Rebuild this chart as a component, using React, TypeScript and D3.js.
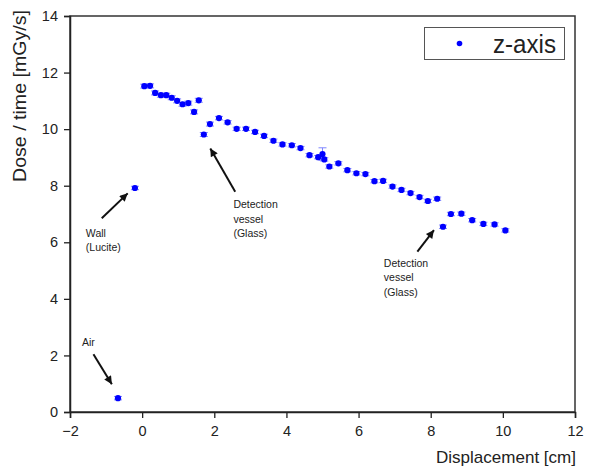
import React, { useEffect, useRef } from 'react';
import * as d3 from 'd3';

// measured dose rate along the z-axis
const displacement = [
  -0.67, -0.2, 0.06, 0.22, 0.36, 0.52, 0.67, 0.82, 0.97, 1.12, 1.28, 1.44, 1.57,
  1.71, 1.88, 2.13, 2.37, 2.62, 2.88, 3.13, 3.38, 3.64, 3.89, 4.15, 4.39, 4.64,
  4.88, 5.0, 5.05, 5.19, 5.44, 5.69, 5.94, 6.19, 6.44, 6.68, 6.94, 7.19, 7.44,
  7.69, 7.92, 8.18, 8.34, 8.56, 8.85, 9.15, 9.46, 9.77, 10.07,
];
const doseRate = [
  0.49, 7.92, 11.52, 11.53, 11.28, 11.2, 11.2, 11.11, 11.0, 10.88, 10.92, 10.61, 11.02,
  9.81, 10.18, 10.39, 10.24, 10.01, 10.01, 9.9, 9.76, 9.59, 9.46, 9.43, 9.33, 9.08,
  9.01, 9.12, 8.93, 8.68, 8.79, 8.55, 8.44, 8.41, 8.16, 8.17, 7.97, 7.85, 7.74,
  7.6, 7.46, 7.54, 6.55, 7.0, 7.01, 6.78, 6.65, 6.63, 6.42,
];
const doseError = [
  0.06, 0.06, 0.07, 0.07, 0.07, 0.07, 0.07, 0.07, 0.07, 0.07, 0.07, 0.07, 0.07,
  0.07, 0.07, 0.06, 0.06, 0.06, 0.06, 0.06, 0.06, 0.06, 0.06, 0.06, 0.06, 0.06,
  0.06, 0.22, 0.06, 0.06, 0.06, 0.06, 0.06, 0.06, 0.06, 0.06, 0.06, 0.06, 0.06,
  0.06, 0.06, 0.06, 0.06, 0.06, 0.06, 0.06, 0.06, 0.06, 0.06,
];

const xTicks = [-2, 0, 2, 4, 6, 8, 10, 12];
const yTicks = [0, 2, 4, 6, 8, 10, 12, 14];

// annotation labels: text lines, label anchor, arrow tail, arrow tip (data units)
const noteLines = [['Air'], ['Wall', '(Lucite)'], ['Detection', 'vessel', '(Glass)'], ['Detection', 'vessel', '(Glass)']];
const noteAt: [number, number][] = [[-1.67, 2.33], [-1.56, 6.19], [2.53, 7.21], [6.7, 5.14]];
const arrowFrom: [number, number][] = [[-1.35, 2.04], [-1.12, 6.85], [2.58, 7.79], [7.63, 5.67]];
const arrowTo: [number, number][] = [[-0.84, 0.98], [-0.4, 7.73], [1.89, 9.32], [8.09, 6.43]];

const W = 591;
const H = 469;
const margin = { top: 16, right: 16, bottom: 57, left: 70 };

const App: React.FC = () => {
  const svgRef = useRef<SVGSVGElement>(null);

  useEffect(() => {
    if (!svgRef.current) return;
    d3.select(svgRef.current).selectAll('*').remove();

    const svg = d3.select(svgRef.current).attr('width', W).attr('height', H);
    const font = '"Liberation Sans", Arial, sans-serif';

    const x = d3.scaleLinear().domain([-2, 12]).range([margin.left, W - margin.right]);
    const y = d3.scaleLinear().domain([0, 14]).range([H - margin.bottom, margin.top]);

    svg.append('rect').attr('width', W).attr('height', H).attr('fill', 'white');

    // frame
    svg.append('rect')
      .attr('x', x(-2))
      .attr('y', y(14))
      .attr('width', x(12) - x(-2))
      .attr('height', y(0) - y(14))
      .attr('fill', 'none')
      .attr('stroke', '#333')
      .attr('stroke-width', 1.5);

    // x axis
    const xAxis = svg.append('g').attr('transform', `translate(0,${y(0)})`);
    xAxis.call(
      d3.axisBottom(x).tickValues(d3.range(-2, 12.01, 1)).tickSize(3).tickFormat(() => '')
    );
    xAxis.call(
      d3.axisBottom(x).tickValues(xTicks).tickSize(6).tickPadding(8).tickFormat(d3.format('d'))
    );
    xAxis.selectAll('.domain').attr('stroke', '#222').attr('stroke-width', 1.5);
    xAxis.selectAll('.tick line').attr('stroke', '#222').attr('stroke-width', 1.3);
    xAxis.selectAll('text').attr('font-family', font).attr('font-size', 14.5).attr('fill', '#222');

    // y axis
    const yAxis = svg.append('g').attr('transform', `translate(${x(-2)},0)`);
    yAxis.call(
      d3.axisLeft(y).tickValues(d3.range(0, 14.01, 1)).tickSize(3).tickFormat(() => '')
    );
    yAxis.call(
      d3.axisLeft(y).tickValues(yTicks).tickSize(6).tickPadding(6).tickFormat(d3.format('d'))
    );
    yAxis.selectAll('.domain').attr('stroke', '#222').attr('stroke-width', 1.5);
    yAxis.selectAll('.tick line').attr('stroke', '#222').attr('stroke-width', 1.3);
    yAxis.selectAll('text').attr('font-family', font).attr('font-size', 14.5).attr('fill', '#222');

    // axis titles
    svg.append('text')
      .attr('x', x(12) + 1)
      .attr('y', 463)
      .attr('text-anchor', 'end')
      .attr('font-family', font)
      .attr('font-size', 17)
      .attr('fill', '#222')
      .attr('textLength', 140)
      .attr('lengthAdjust', 'spacingAndGlyphs')
      .text('Displacement [cm]');
    svg.append('text')
      .attr('transform', `translate(26,${y(14) - 6}) rotate(-90)`)
      .attr('text-anchor', 'end')
      .attr('font-family', font)
      .attr('font-size', 17.5)
      .attr('fill', '#222')
      .attr('textLength', 172)
      .attr('lengthAdjust', 'spacingAndGlyphs')
      .text('Dose / time [mGy/s]');

    // data points with error bars
    const pts = displacement.map((d, i) => ({ x: d, y: doseRate[i], e: doseError[i] }));
    const g = svg.append('g');
    const bars = g.selectAll('.err').data(pts).enter().append('g').attr('class', 'err')
      .attr('stroke', '#7f86ff').attr('stroke-width', 1);
    bars.append('line')
      .attr('x1', d => x(d.x)).attr('x2', d => x(d.x))
      .attr('y1', d => y(d.y - d.e)).attr('y2', d => y(d.y + d.e));
    bars.append('line')
      .attr('x1', d => x(d.x) - 4).attr('x2', d => x(d.x) + 4)
      .attr('y1', d => y(d.y - d.e)).attr('y2', d => y(d.y - d.e));
    bars.append('line')
      .attr('x1', d => x(d.x) - 4).attr('x2', d => x(d.x) + 4)
      .attr('y1', d => y(d.y + d.e)).attr('y2', d => y(d.y + d.e));
    g.selectAll('.pt').data(pts).enter().append('circle')
      .attr('class', 'pt')
      .attr('cx', d => x(d.x))
      .attr('cy', d => y(d.y))
      .attr('r', 3.1)
      .attr('fill', '#0000ff');

    // arrowhead marker
    svg.append('defs').append('marker')
      .attr('id', 'head')
      .attr('viewBox', '0 0 10 10')
      .attr('refX', 10)
      .attr('refY', 5)
      .attr('markerWidth', 11)
      .attr('markerHeight', 8)
      .attr('markerUnits', 'userSpaceOnUse')
      .attr('orient', 'auto')
      .append('path')
      .attr('d', 'M0,0 L10,5 L0,10 Z')
      .attr('fill', '#111');

    // annotations
    noteLines.forEach((lines, i) => {
      const t = svg.append('text')
        .attr('font-family', font)
        .attr('font-size', 10.5)
        .attr('fill', '#222');
      lines.forEach((line, j) => {
        t.append('tspan')
          .attr('x', x(noteAt[i][0]))
          .attr('y', y(noteAt[i][1]) + j * 14.5)
          .text(line);
      });
      svg.append('line')
        .attr('x1', x(arrowFrom[i][0]))
        .attr('y1', y(arrowFrom[i][1]))
        .attr('x2', x(arrowTo[i][0]))
        .attr('y2', y(arrowTo[i][1]))
        .attr('stroke', '#111')
        .attr('stroke-width', 2)
        .attr('marker-end', 'url(#head)');
    });

    // legend
    const lg = svg.append('g');
    lg.append('rect')
      .attr('x', 424.5)
      .attr('y', 27.5)
      .attr('width', 140)
      .attr('height', 32)
      .attr('fill', 'white')
      .attr('stroke', '#555')
      .attr('stroke-width', 1);
    lg.append('circle').attr('cx', 459.5).attr('cy', 43.5).attr('r', 2.8).attr('fill', '#0000ff');
    lg.append('text')
      .attr('x', 493)
      .attr('y', 52.5)
      .attr('font-family', font)
      .attr('font-size', 25)
      .attr('fill', '#222')
      .attr('textLength', 63)
      .attr('lengthAdjust', 'spacingAndGlyphs')
      .text('z-axis');
  }, []);

  return <svg ref={svgRef} style={{ position: 'absolute', left: 0, top: 0 }} />;
};

export default App;
